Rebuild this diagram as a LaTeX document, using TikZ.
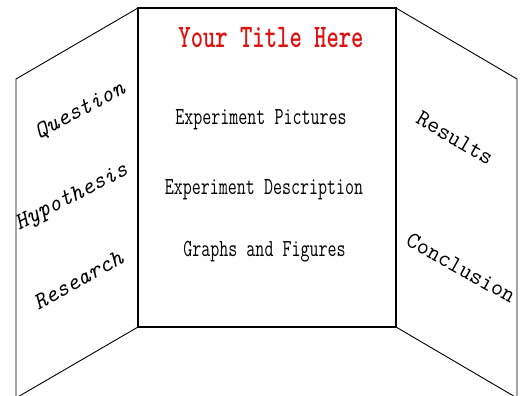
\documentclass[tikz,border=0pt]{standalone}
\definecolor{titlered}{RGB}{222,18,18}
\tikzset{
  panel/.style={draw=black, line width=0.9pt, line join=miter},
  centertext/.style={font=\ttfamily\fontsize{17.5}{18}\selectfont, yscale=1.4, inner sep=0pt},
  sidetext/.style={font=\ttfamily\itshape\fontsize{23.5}{24}\selectfont, inner sep=0pt},
  sideup/.style={font=\ttfamily\fontsize{23.5}{24}\selectfont, inner sep=0pt},
}
\begin{document}
\begin{tikzpicture}[x=1pt,y=-1pt]
\useasboundingbox (0,0) rectangle (528,396);
\clip (0,0) rectangle (528,396);
% corners
\coordinate (L1) at (16,79);
\coordinate (L2) at (138,8);
\coordinate (L3) at (138,327);
\coordinate (L4) at (16,398);
\coordinate (R2) at (396,8);
\coordinate (R1) at (517,79);
\coordinate (R3) at (396,327);
\coordinate (R4) at (517,398);
% panels
\draw[panel] (L4) -- (L1) -- (L2) -- (L3) -- cycle;
\draw[panel] (R4) -- (R1) -- (R2) -- (R3) -- cycle;
\draw[panel, line width=1.1pt] (L2) rectangle (R3);
% center texts
\node[centertext, font=\ttfamily\bfseries\fontsize{23.5}{24}\selectfont, text=titlered] (title) at (271,38) {Your Title Here};
\node[centertext] (pics) at (261,120) {Experiment Pictures};
\node[centertext] (desc) at (264,190) {Experiment Description};
\node[centertext] (graphs) at (264.5,252) {Graphs and Figures};
% left texts
\node[sidetext, rotate=28] (q) at (80,111) {Question};
\node[sidetext, rotate=27] (h) at (72,198) {Hypothesis};
\node[sidetext, rotate=29] (r) at (78,280) {Research};
% right texts
\node[sideup, rotate=-30] (res) at (455,138) {Results};
\node[sideup, rotate=-29] (con) at (461,268) {Conclusion};
\end{tikzpicture}
\end{document}
